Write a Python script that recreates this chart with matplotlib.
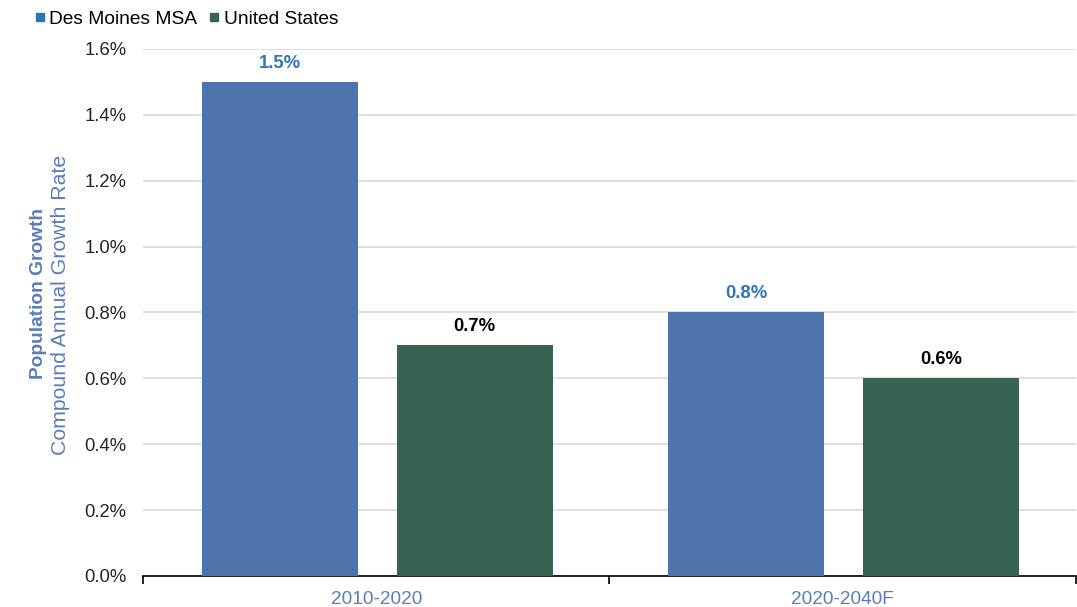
import matplotlib
matplotlib.use("Agg")
import matplotlib.pyplot as plt
from matplotlib.ticker import FuncFormatter, MultipleLocator
from matplotlib.lines import Line2D
import numpy as np

plt.rcParams['font.family'] = ['Liberation Sans', 'DejaVu Sans']

periods = ["2010-2020", "2020-2040F"]
series_names = ["Des Moines MSA", "United States"]
des_moines = [1.5, 0.8]
united_states = [0.7, 0.6]

blue = "#4E74AD"
green = "#386350"
label_blue = "#2E75B6"
axis_blue = "#5B7DB8"

fig = plt.figure(figsize=(10.77, 6.07), dpi=100)
ax = fig.add_axes([0.1328, 0.0511, 0.8662, 0.8682])

x = np.arange(len(periods))
width = 0.334
offset = 0.209
b1 = ax.bar(x - offset + 0.002, des_moines, width, color=blue, zorder=3)
b2 = ax.bar(x + offset + 0.002, united_states, width, color=green, zorder=3)

for rect, v in zip(b1, des_moines):
    ax.annotate(f"{v:.1f}%", (rect.get_x() + rect.get_width() / 2, v),
                xytext=(0, 7.5), textcoords="offset points", ha="center", va="bottom",
                fontsize=13.3, fontweight="bold", color=label_blue)
for rect, v in zip(b2, united_states):
    ax.annotate(f"{v:.1f}%", (rect.get_x() + rect.get_width() / 2, v),
                xytext=(0, 7.5), textcoords="offset points", ha="center", va="bottom",
                fontsize=13.3, fontweight="bold", color="black")

ax.set_xlim(-0.5, 1.5)
ax.set_ylim(0, 1.6)
ax.yaxis.set_major_locator(MultipleLocator(0.2))
ax.yaxis.set_major_formatter(FuncFormatter(lambda v, p: f"{v:.1f}%"))
ax.grid(axis="y", color="#D9D9D9", linewidth=1.2, zorder=0)
ax.set_axisbelow(True)

for s in ["top", "right", "left"]:
    ax.spines[s].set_visible(False)
ax.spines["bottom"].set_color("black")
ax.spines["bottom"].set_linewidth(1.2)

ax.tick_params(axis="y", length=0, labelsize=13.3, labelcolor="#262626", pad=12)
ax.set_xticks(x)
ax.set_xticklabels(periods, fontsize=13.7, color=axis_blue)
ax.tick_params(axis="x", length=0, pad=11)
# category separators below the baseline
ax.set_xticks([-0.5, 0.5, 1.5], minor=True)
ax.tick_params(axis="x", which="minor", length=6, width=1.2, color="black")

fig.text(0.0355, 0.517, "Population Growth", rotation=90, ha="center", va="center",
         fontsize=13.8, fontweight="bold", color=axis_blue)
fig.text(0.0565, 0.497, "Compound Annual Growth Rate", rotation=90, ha="center", va="center",
         fontsize=15.3, color=axis_blue)

handles = [Line2D([], [], marker="s", linestyle="none", markersize=5.8, color=c)
           for c in (label_blue, green)]
fig.legend(handles, series_names, loc="upper left", bbox_to_anchor=(0.018, 1.003),
           ncol=2, frameon=False, fontsize=13.8, handletextpad=0.1, columnspacing=0.5,
           borderaxespad=0.25, handlelength=0.8)

fig.savefig("out.png", dpi=100)
